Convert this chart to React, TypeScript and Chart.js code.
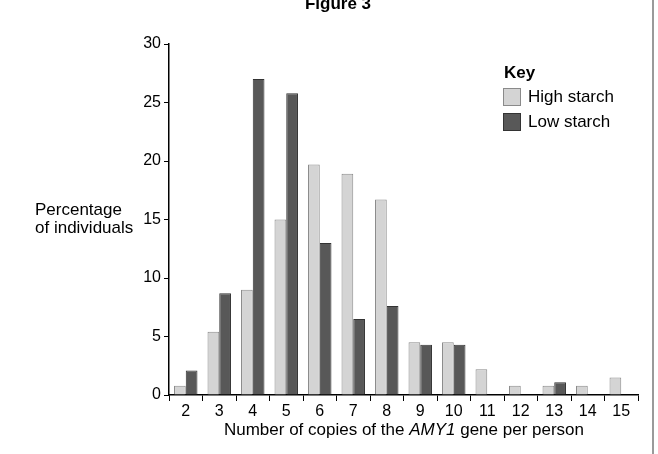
import React, { useEffect, useRef } from "react";
import Chart from "chart.js/auto";

const copies = ["2", "3", "4", "5", "6", "7", "8", "9", "10", "11", "12", "13", "14", "15"];
const highStarch = [0.8, 5.4, 9.0, 15.0, 19.7, 18.9, 16.7, 4.5, 4.5, 2.2, 0.8, 0.8, 0.8, 1.5];
const lowStarch = [2.1, 8.7, 27.0, 25.8, 13.0, 6.5, 7.6, 4.3, 4.3, 0, 0, 1.1, 0, 0];
const seriesNames = ["High starch", "Low starch"];
const fills = ["#d4d4d4", "#585858"];
const edges = ["#8a8a8a", "#333333"];

const FONT = "'Liberation Sans', Arial, sans-serif";

const App: React.FC = () => {
  const canvasRef = useRef<HTMLCanvasElement | null>(null);

  useEffect(() => {
    if (!canvasRef.current) return;
    const chart = new Chart(canvasRef.current, {
      type: "bar",
      data: {
        labels: copies,
        datasets: [highStarch, lowStarch].map((vals, i) => ({
          label: seriesNames[i],
          data: vals,
          backgroundColor: fills[i],
          borderColor: edges[i],
          borderWidth: 1,
          categoryPercentage: 0.7,
          barPercentage: 1.0,
        })),
      },
      options: {
        animation: false,
        responsive: true,
        maintainAspectRatio: false,
        layout: { padding: { top: 44, right: 20, bottom: 0, left: 0 } },
        plugins: { legend: { display: false }, tooltip: { enabled: false } },
        scales: {
          x: {
            grid: { offset: true, drawOnChartArea: false, tickLength: 6, color: "#000" },
            border: { color: "#000", width: 1.5 },
            ticks: { color: "#000", font: { family: FONT, size: 16 }, padding: 1 },
            afterFit: (s: any) => {
              s.height = 59;
            },
          },
          y: {
            min: 0,
            max: 30,
            ticks: { stepSize: 5, color: "#000", font: { family: FONT, size: 16 }, padding: 3 },
            grid: { drawOnChartArea: false, tickLength: 5, color: "#000" },
            border: { color: "#000", width: 1.5 },
            afterFit: (s: any) => {
              s.width = 169;
            },
          },
        },
      },
    });
    return () => chart.destroy();
  }, []);

  const text: React.CSSProperties = {
    position: "absolute",
    fontFamily: FONT,
    fontSize: 17,
    color: "#000",
    whiteSpace: "nowrap",
    lineHeight: "18px",
  };

  return (
    <div style={{ position: "fixed", left: 0, top: 0, width: 658, height: 454, background: "#fff", overflow: "hidden" }}>
      <canvas ref={canvasRef} style={{ position: "absolute", left: 0, top: 0, width: 658, height: 454 }} />
      <div style={{ ...text, left: 338, top: -5, transform: "translateX(-50%)", fontWeight: "bold" }}>
        Figure 3
      </div>
      <div style={{ ...text, left: 35, top: 201 }}>
        Percentage
        <br />
        of individuals
      </div>
      <div style={{ ...text, left: 404, top: 421, transform: "translateX(-50%)" }}>
        Number of copies of the <i>AMY1</i> gene per person
      </div>
      <div style={{ ...text, left: 504, top: 64, fontWeight: "bold" }}>Key</div>
      {seriesNames.map((name, i) => (
        <React.Fragment key={name}>
          <div
            style={{
              position: "absolute",
              left: 503,
              top: 88 + i * 25,
              width: 16,
              height: 16,
              background: fills[i],
              border: `1px solid ${edges[i]}`,
            }}
          />
          <div style={{ ...text, left: 528, top: 88 + i * 25 }}>{name}</div>
        </React.Fragment>
      ))}
      <div style={{ position: "absolute", left: 652, top: 0, width: 2, height: 454, background: "#9a9a9a" }} />
    </div>
  );
};

export default App;
